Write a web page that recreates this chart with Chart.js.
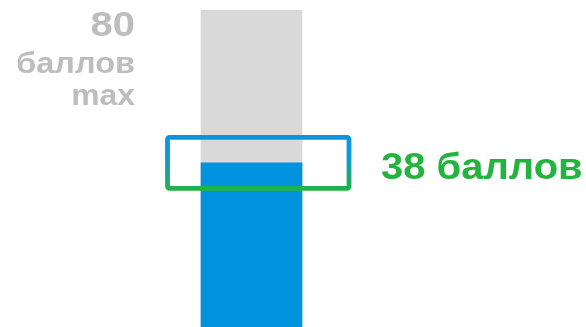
<!DOCTYPE html>
<html>
<head>
<meta charset="utf-8">
<script src="https://cdn.jsdelivr.net/npm/chart.js@4.4.0/dist/chart.umd.min.js"></script>
<style>
html,body{margin:0;padding:0;background:#fff;}
#wrap{width:586px;height:327px;position:relative;}
</style>
</head>
<body>
<div id="wrap"><canvas id="c" width="586" height="327"></canvas></div>
<script>
// ---- data ----
const categories = ['Результат'];
const maxScores = [80];
const userScores = [38];
const maxLabelLines = ['80', 'баллов', 'max'];
const scoreLabel = '38 баллов';
const axisMin = -7.1;
const axisMax = 80;

const FONT = '"Liberation Sans", Arial, sans-serif';

function stretchedText(ctx, text, x, y, sx) {
  ctx.save();
  ctx.translate(x, y);
  ctx.scale(sx, 1);
  ctx.fillText(text, 0, 0);
  ctx.restore();
}

const overlayPlugin = {
  id: 'overlay',
  afterDatasetsDraw(chart) {
    const ctx = chart.ctx;
    const y = chart.scales.y;
    const bar = chart.getDatasetMeta(1).data[0];
    const bx = bar.x, bw = bar.width;
    const left = bx - bw / 2, right = bx + bw / 2;
    const yScore = y.getPixelForValue(userScores[0]);
    const yMax = y.getPixelForValue(maxScores[0]);

    // gradient frame around the score level
    const top = yScore - 25.5, bot = yScore + 25.5;
    const fx1 = left - 33.5, fx2 = right + 47;
    const g = ctx.createLinearGradient(0, top - 2, 0, bot + 2);
    g.addColorStop(0, '#0994e2');
    g.addColorStop(0.35, '#0c97dd');
    g.addColorStop(1, '#22b43e');
    ctx.save();
    ctx.strokeStyle = g;
    ctx.lineWidth = 4.8;
    ctx.lineJoin = 'round';
    ctx.beginPath();
    if (ctx.roundRect) ctx.roundRect(fx1, top, fx2 - fx1, bot - top, 2);
    else ctx.rect(fx1, top, fx2 - fx1, bot - top);
    ctx.stroke();

    // max label
    ctx.fillStyle = '#bdbdbd';
    ctx.textAlign = 'right';
    ctx.textBaseline = 'alphabetic';
    const tx = left - 66;
    ctx.font = 'bold 35px ' + FONT;
    stretchedText(ctx, maxLabelLines[0], tx, yMax + 26, 1.14);
    ctx.font = 'bold 29px ' + FONT;
    stretchedText(ctx, maxLabelLines[1], tx, yMax + 62.5, 1.12);
    stretchedText(ctx, maxLabelLines[2], tx, yMax + 94.5, 1.1);

    // score label
    ctx.fillStyle = '#22b43e';
    ctx.textAlign = 'left';
    ctx.font = 'bold 36px ' + FONT;
    stretchedText(ctx, scoreLabel, fx2 + 32, yScore + 16, 1.11);
    ctx.restore();
  }
};

new Chart(document.getElementById('c'), {
  type: 'bar',
  data: {
    labels: categories,
    datasets: [
      { data: maxScores, backgroundColor: '#d9d9d9', base: axisMin, grouped: false, order: 2, barThickness: 101 },
      { data: userScores, backgroundColor: '#0091df', base: axisMin, grouped: false, order: 1, barThickness: 101 }
    ]
  },
  options: {
    responsive: false,
    animation: false,
    events: [],
    layout: { padding: { left: 151, right: 234, top: 10, bottom: 0 } },
    plugins: { legend: { display: false }, tooltip: { enabled: false } },
    scales: {
      x: { display: false },
      y: { display: false, min: axisMin, max: axisMax }
    }
  },
  plugins: [overlayPlugin]
});
</script>
</body>
</html>
